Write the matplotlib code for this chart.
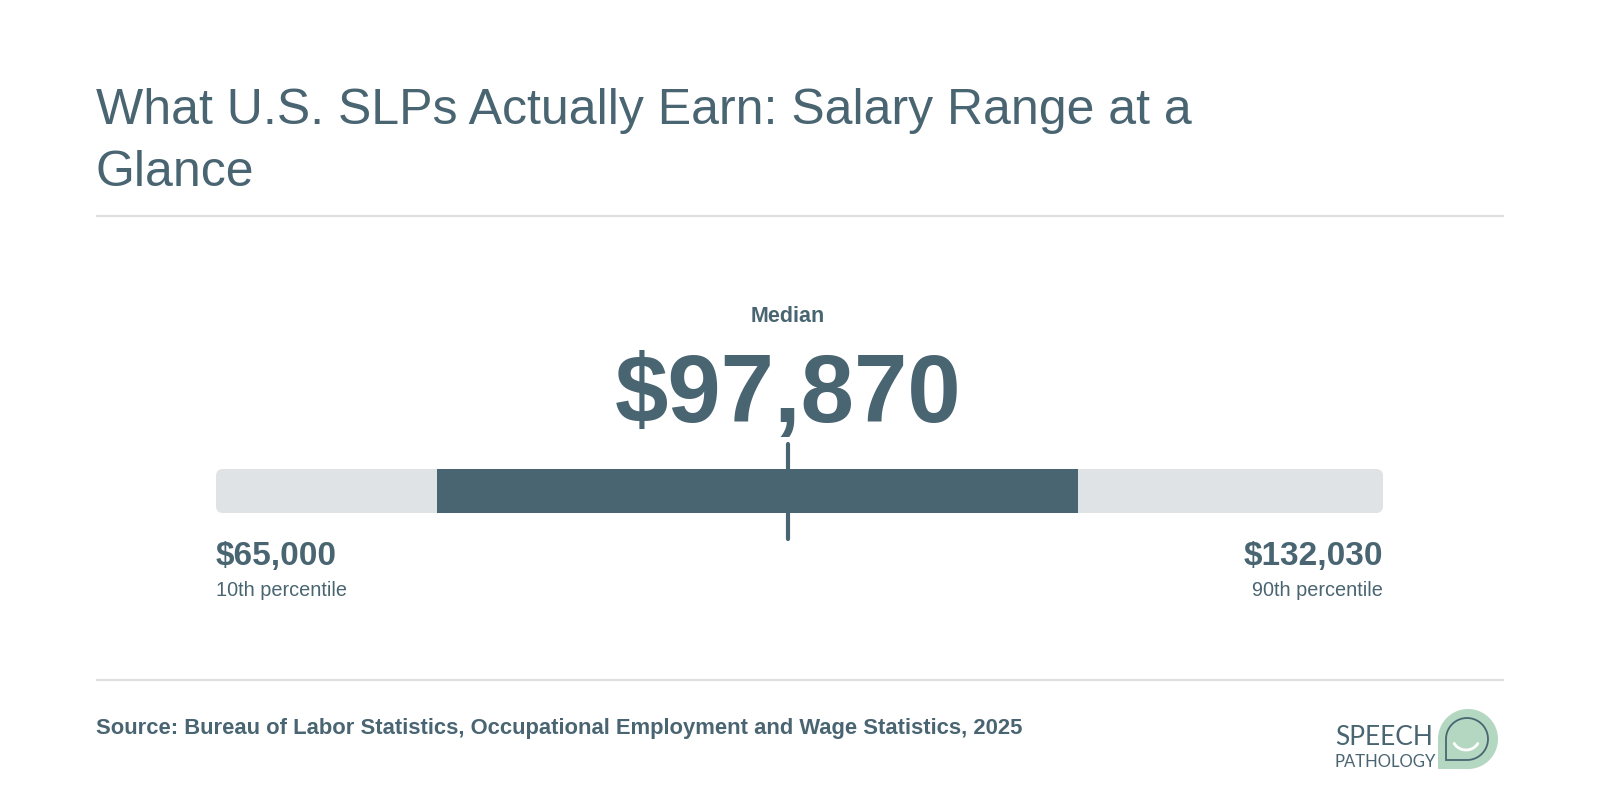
import numpy as np
import matplotlib.pyplot as plt
from matplotlib.patches import FancyBboxPatch, PathPatch
from matplotlib.path import Path

# salary percentiles (USD)
P10 = 65000
P25 = 77670      # left edge of the dark band
MEDIAN = 97870
P75 = 114540     # right edge of the dark band
P90 = 132030

TITLE_LINES = ["What U.S. SLPs Actually Earn: Salary Range at a", "Glance"]
LOW_LABEL = ("$65,000", "10th percentile")
HIGH_LABEL = ("$132,030", "90th percentile")
SOURCE = "Source: Bureau of Labor Statistics, Occupational Employment and Wage Statistics, 2025"

INK = "#4a6572"
TRACK = "#dfe3e6"
RULE = "#dde1e4"
GREEN = "#b3d7c0"
FONT = ["Liberation Sans", "DejaVu Sans"]
LOGO_FONT = ["Lato", "DejaVu Sans"]

W, H = 1600, 800
fig = plt.figure(figsize=(16, 8), dpi=100)
fig.patch.set_facecolor("white")

# full-figure overlay in pixel coordinates (y down)
ax = fig.add_axes([0, 0, 1, 1])
ax.set_xlim(0, W)
ax.set_ylim(H, 0)
ax.axis("off")

for i, line in enumerate(TITLE_LINES):
    ax.text(96, 124 + i * 62, line, fontsize=36, color=INK, family=FONT,
            va="baseline", ha="left")

ax.plot([96, 1504], [216, 216], color=RULE, lw=1.6, solid_capstyle="butt")
ax.plot([96, 1504], [680, 680], color=RULE, lw=1.6, solid_capstyle="butt")

# ------ range bar ------
bx0, bx1, by0, by1 = 216, 1383, 469, 513
ax_bar = fig.add_axes([bx0 / W, 1 - by1 / H, (bx1 - bx0) / W, (by1 - by0) / H])
ax_bar.set_xlim(P10, P90)
ax_bar.set_ylim(0, 1)
ax_bar.axis("off")

x_per_px = (P90 - P10) / (bx1 - bx0)
y_per_px = 1.0 / (by1 - by0)
track = FancyBboxPatch((P10, 0), P90 - P10, 1,
                       boxstyle=f"round,pad=0,rounding_size={7 * x_per_px}",
                       mutation_aspect=y_per_px / x_per_px,
                       facecolor=TRACK, edgecolor="none", clip_on=False)
ax_bar.add_patch(track)
ax_bar.barh(0.5, P75 - P25, left=P25, height=1, color=INK, edgecolor="none")
ax_bar.plot([MEDIAN, MEDIAN], [(by1 - 444) / (by1 - by0), -(539 - by1) / (by1 - by0)],
            color=INK, lw=3.0, solid_capstyle="round", clip_on=False, zorder=5)

# median label
ax.text(788, 322, "Median", fontsize=15.5, fontweight="bold", color=INK,
        family=FONT, ha="center", va="baseline")
ax.text(788, 422, f"${MEDIAN:,}", fontsize=69, fontweight="bold", color=INK,
        family=FONT, ha="center", va="baseline")

# end labels
ax.text(bx0, 565, LOW_LABEL[0], fontsize=24, fontweight="bold", color=INK,
        family=FONT, ha="left", va="baseline")
ax.text(bx0, 596, LOW_LABEL[1], fontsize=14.3, color=INK,
        family=FONT, ha="left", va="baseline")
ax.text(bx1, 565, HIGH_LABEL[0], fontsize=24, fontweight="bold", color=INK,
        family=FONT, ha="right", va="baseline")
ax.text(bx1, 596, HIGH_LABEL[1], fontsize=14.3, color=INK,
        family=FONT, ha="right", va="baseline")

# source
ax.text(96, 734, SOURCE, fontsize=15.8, fontweight="bold", color=INK,
        family=FONT, ha="left", va="baseline")

# ------ logo ------
ax.text(1335, 745, "SPEECH", fontsize=19, color=INK, family=LOGO_FONT,
        ha="left", va="baseline")
ax.text(1335, 767, "PATHOLOGY", fontsize=12, color=INK, family=LOGO_FONT,
        ha="left", va="baseline")


def bubble(cx, cy, r):
    th = np.radians(np.linspace(-90, 180, 60))
    pts = [(cx + r * np.cos(t), cy - r * np.sin(t)) for t in th]
    pts.append((cx - r, cy + r))
    pts.append(pts[0])
    codes = [Path.MOVETO] + [Path.LINETO] * (len(pts) - 2) + [Path.CLOSEPOLY]
    return Path(pts, codes)


ax.add_patch(PathPatch(bubble(1468, 739, 30), facecolor=GREEN, edgecolor="none"))
ax.add_patch(PathPatch(bubble(1467, 739, 21), facecolor="none", edgecolor=INK, lw=1.3))
sm = np.radians(np.linspace(212, 328, 30))
ax.plot(1466 + 14 * np.cos(sm), 736 - 14 * np.sin(sm), color="white", lw=2.0,
        solid_capstyle="round")

fig.savefig("out.png", dpi=100, facecolor="white")
